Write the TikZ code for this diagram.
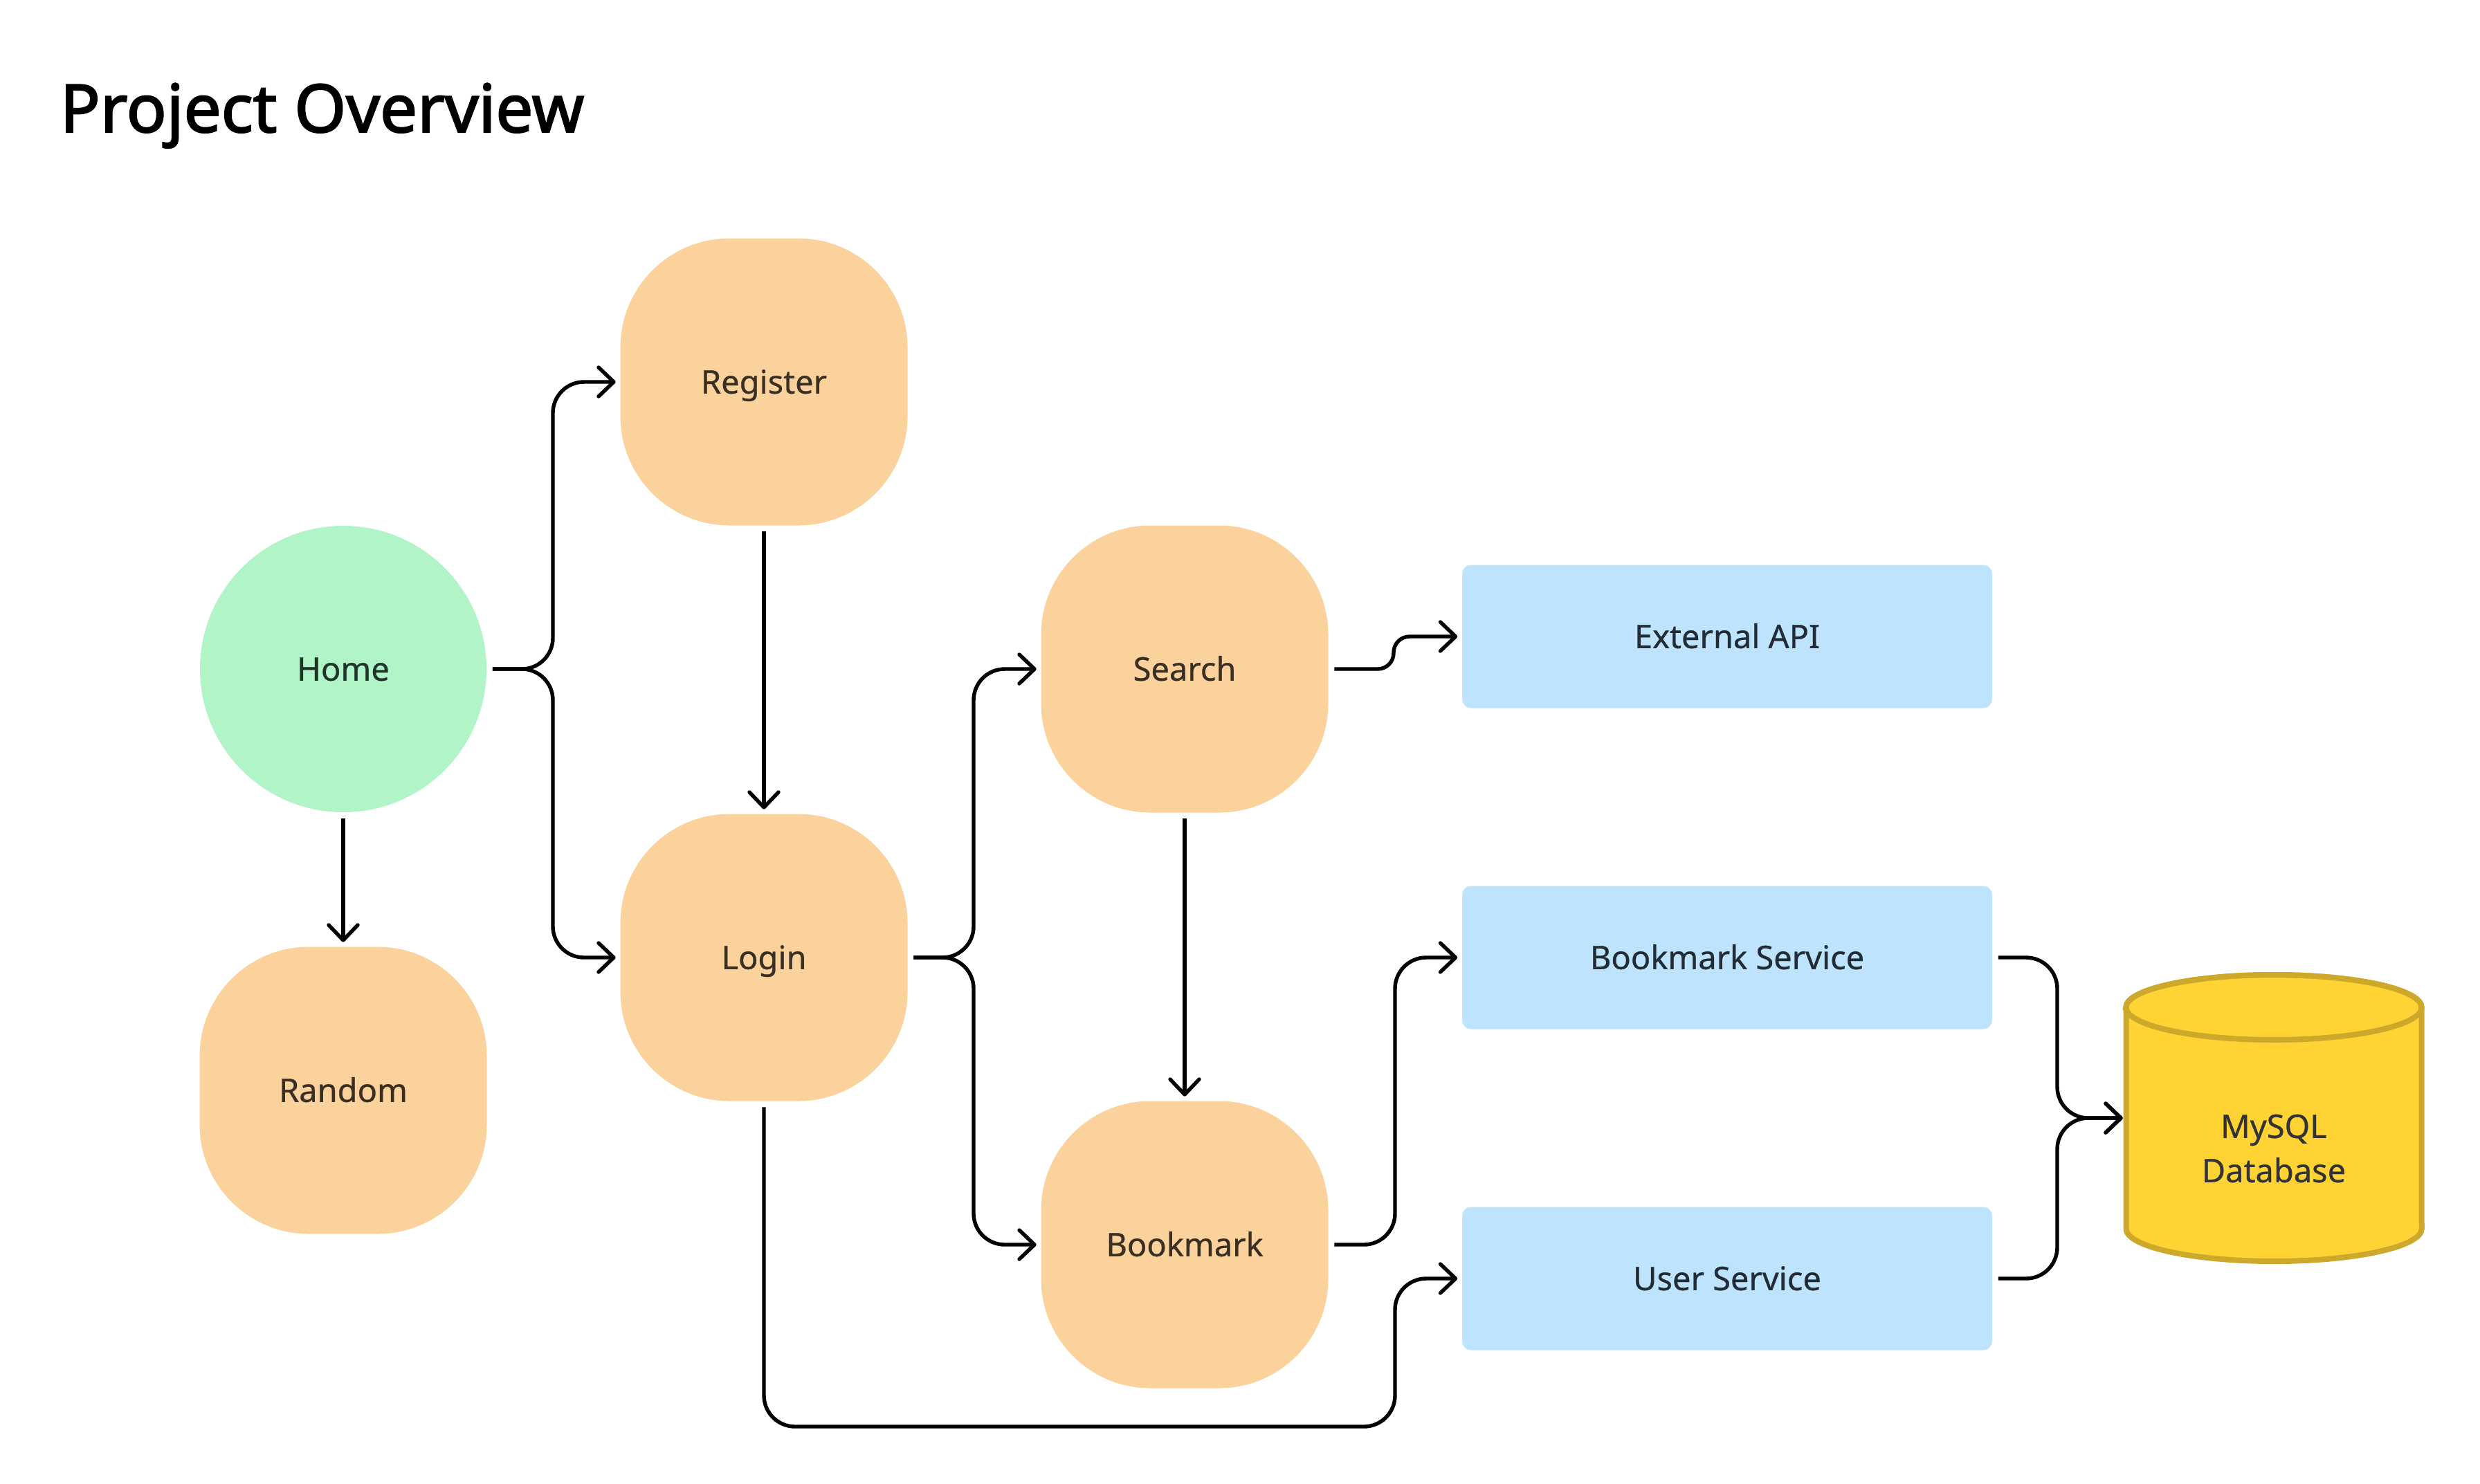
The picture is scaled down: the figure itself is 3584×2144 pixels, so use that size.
\documentclass[tikz,border=0pt]{standalone}
\usepackage{fontspec}
\setmainfont{Noto Sans}
\newfontfamily\titlefont{Noto Sans}[FakeBold=2.2]
\newfontfamily\labelfont{Noto Sans}[FakeBold=0.6]
\usetikzlibrary{arrows.meta}
\definecolor{orangefill}{HTML}{FBD29C}
\definecolor{orangetext}{HTML}{3A2F22}
\definecolor{greenfill}{HTML}{B0F4C8}
\definecolor{greentext}{HTML}{1F3327}
\definecolor{bluefill}{HTML}{BEE3FD}
\definecolor{bluetext}{HTML}{222C36}
\definecolor{dbfill}{HTML}{FED333}
\definecolor{dbline}{HTML}{CCA82B}
\definecolor{dbtext}{HTML}{333333}
\begin{document}
\begin{tikzpicture}[x=0.25pt,y=-0.25pt,
  nodefont/.style={font=\labelfont\fontsize{11.75}{16}\selectfont},
  boxtext/.style={text height=8.4pt, text depth=0pt},
  screen/.style={nodefont, boxtext, fill=orangefill, text=orangetext, rounded corners=39.5pt,
    minimum width=103.75pt, minimum height=103.75pt, inner sep=0pt},
  homenode/.style={nodefont, boxtext, circle, fill=greenfill, text=greentext, minimum size=103.5pt, inner sep=0pt},
  service/.style={nodefont, boxtext, fill=bluefill, text=bluetext, rounded corners=3.25pt,
    minimum width=191.5pt, minimum height=51.75pt, inner sep=0pt},
  conn/.style={draw=black, line width=1.35pt, rounded corners=11.25pt,
    -{Straight Barb[length=5.5pt,width=10.5pt,round]}, shorten <=2pt, shorten >=1.5pt}]
\useasboundingbox[fill=white] (0,0) rectangle (3584,2144);

\node[anchor=base west, inner sep=0pt, font=\titlefont\fontsize{24}{28}\selectfont] (title) at (86,191) {Project Overview};

% nodes
\node[homenode] (Home) at (496,967) {Home};
\node[screen] (Random) at (496,1576) {Random};
\node[screen] (Register) at (1104,552) {Register};
\node[screen] (Login) at (1104,1384) {Login};
\node[screen] (Search) at (1712,967) {Search};
\node[screen] (Bookmark) at (1712,1799) {Bookmark};
\node[service] (ExtAPI) at (2496,920) {External API};
\node[service] (BmSvc) at (2496,1384) {Bookmark Service};
\node[service] (UserSvc) at (2496,1848) {User Service};

% database cylinder
\path[fill=dbfill, draw=dbline, line width=2pt]
  (3072.5,1456) -- (3072.5,1776)
  arc[start angle=180, end angle=360, x radius=53.4pt, y radius=11.75pt]
  -- (3499.5,1456)
  arc[start angle=0, end angle=180, x radius=53.4pt, y radius=11.75pt] -- cycle;
\draw[dbline, line width=2pt] (3286,1456) ellipse[x radius=53.4pt, y radius=11.75pt];
\node[minimum width=108.75pt, minimum height=105.5pt, inner sep=0pt] (DB) at (3286,1616) {};
\node[nodefont, text=dbtext, align=center, inner sep=0pt] (DBlabel) at (3286,1660) {MySQL\\Database};

% bus coordinates
\coordinate (b1) at (799,0);
\coordinate (b2) at (1407,0);
\coordinate (b3) at (2016,0);
\coordinate (b4) at (2973,0);
\coordinate (sb) at (2014,0);
\coordinate (low) at (2016,2062);

% connectors
\draw[conn] (Home.east) -| (b1 |- Register.west) -- (Register.west);
\draw[conn] (Home.east) -| (b1 |- Login.west) -- (Login.west);
\draw[conn] (Home.south) -- (Random.north);
\draw[conn] (Register.south) -- (Login.north);
\draw[conn] (Login.east) -| (b2 |- Search.west) -- (Search.west);
\draw[conn] (Login.east) -| (b2 |- Bookmark.west) -- (Bookmark.west);
\draw[conn] (Search.south) -- (Bookmark.north);
\draw[conn, rounded corners=5.75pt] (Search.east) -| (sb |- ExtAPI.west) -- (ExtAPI.west);
\draw[conn] (Bookmark.east) -| (b3 |- BmSvc.west) -- (BmSvc.west);
\draw[conn] (Login.south) |- (low) |- (UserSvc.west);
\draw[conn, shorten >=0pt] (BmSvc.east) -| (b4 |- DB.west) -- (DB.west);
\draw[conn, shorten >=0pt] (UserSvc.east) -| (b4 |- DB.west) -- (DB.west);
\end{tikzpicture}
\end{document}
